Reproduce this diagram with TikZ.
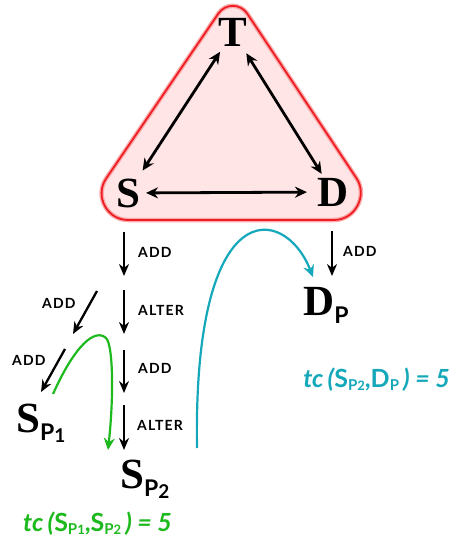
\documentclass[tikz,border=0pt]{standalone}
\usepackage{fontspec}
\setmainfont{Lato}
\newfontfamily\serifbig{Liberation Serif}
\newfontfamily\labfont{Lato}[LetterSpace=8]
\usetikzlibrary{arrows.meta}
\definecolor{trifill}{RGB}{255,229,229}
\definecolor{triline}{RGB}{238,30,36}
\definecolor{triglow}{RGB}{250,170,170}
\definecolor{tcteal}{RGB}{20,168,186}
\definecolor{tcgreen}{RGB}{30,185,30}
\newcommand{\BigLet}[1]{{\serifbig\bfseries\fontsize{43}{43}\selectfont #1}}
\newcommand{\BigSub}[1]{\raisebox{-8pt}{\bfseries\fontsize{23}{23}\selectfont P\raisebox{-2pt}{\fontsize{19}{19}\selectfont #1}}}
\newcommand{\SmallSub}[1]{\raisebox{-3pt}{\upshape\bfseries\fontsize{15}{15}\selectfont P\fontsize{13}{13}\selectfont #1}}
\begin{document}
\begin{tikzpicture}[x=1pt,y=-1pt,
  bigl/.style={inner sep=0pt},
  bidir/.style={line width=2.8pt,{Stealth[length=12pt,width=11pt]}-{Stealth[length=12pt,width=11pt]}},
  deriv/.style={line width=2.3pt,-{Stealth[length=12pt,width=10pt]}},
  lab/.style={inner sep=0pt,anchor=west,font=\labfont\bfseries\fontsize{14}{14}\selectfont},
  tcpath/.style={line width=2.2pt,-{Stealth[length=12pt,width=11pt,inset=4pt]}},
  tctext/.style={inner sep=0pt,font=\bfseries\fontsize{25}{25}\selectfont}]
\useasboundingbox (0,0) rectangle (453,541);
% rounded triangle
\path[draw=triglow,line width=4.5pt,fill=trifill]
  (128,220) -- (334,220) .. controls (355,220) and (368.1,195.8) .. (356.5,178.3)
  -- (247.3,13.7) .. controls (240.4,3.3) and (225.4,3.2) .. (218.4,13.5)
  -- (106.1,178.6) .. controls (94.3,196) and (107,220) .. (128,220) -- cycle;
\path[draw=triline,line width=1.8pt]
  (128,220) -- (334,220) .. controls (355,220) and (368.1,195.8) .. (356.5,178.3)
  -- (247.3,13.7) .. controls (240.4,3.3) and (225.4,3.2) .. (218.4,13.5)
  -- (106.1,178.6) .. controls (94.3,196) and (107,220) .. (128,220) -- cycle;
% vertices
\node[bigl] (T) at (233,32) {\BigLet{T}};
\node[bigl] (S) at (128,193) {\BigLet{S}};
\node[bigl] (D) at (333,192) {\BigLet{D}};
\draw[bidir,shorten <=23.7pt,shorten >=26.8pt] (T.center) -- (S.center);
\draw[bidir,shorten <=25.1pt,shorten >=21.4pt] (T.center) -- (D.center);
\draw[bidir,shorten <=18pt,shorten >=26pt] (S.center) -- (D.center);
% derived nodes
\node[bigl,anchor=base west] (SP1) at (16,432) {\BigLet{S}\BigSub{1}};
\node[bigl,anchor=base west] (SP2) at (120,488) {\BigLet{S}\BigSub{2}};
\node[bigl,anchor=base west] (DP) at (303,315) {\BigLet{D}\BigSub{}};
% step coordinates
\coordinate (v1a) at (124,232); \coordinate (v1b) at (124,276);
\coordinate (v2a) at (124,290); \coordinate (v2b) at (124,334);
\coordinate (v3a) at (124,350); \coordinate (v3b) at (124,393);
\coordinate (v4a) at (124,405); \coordinate (v4b) at (124,450);
\coordinate (d1a) at (97,291);  \coordinate (d1b) at (73,334);
\coordinate (d2a) at (65,349);  \coordinate (d2b) at (41,392);
\coordinate (pa) at (332,231);  \coordinate (pb) at (332,276);
\draw[deriv] (v1a) -- (v1b);
\draw[deriv] (v2a) -- (v2b);
\draw[deriv] (v3a) -- (v3b);
\draw[deriv] (v4a) -- (v4b);
\draw[deriv] (d1a) -- (d1b);
\draw[deriv] (d2a) -- (d2b);
\draw[deriv] (pa) -- (pb);
\node[lab] (l1) at (138,252) {ADD};
\node[lab] (l2) at (138,310) {ALTER};
\node[lab] (l3) at (138,368) {ADD};
\node[lab] (l4) at (137,425) {ALTER};
\node[lab] (l5) at (42,303) {ADD};
\node[lab] (l6) at (12,360) {ADD};
\node[lab] (l7) at (343,251) {ADD};
% tc curves
\coordinate (gs) at (53,394);
\coordinate (gm) at (106,338);
\coordinate (ge) at (108,450);
\draw[tcpath,tcgreen] (gs) .. controls (75,345) and (95,328) .. (gm)
  .. controls (113,344.4) and (114,395) .. (ge);
\coordinate (ts) at (197,448);
\coordinate (te) at (313,277);
\draw[tcpath,tcteal] (ts) .. controls (193,190) and (285,205) .. (te);
% tc labels
\node[tctext,text=tcteal,anchor=east] (tc2) at (450,380) {{\itshape tc\,(}S\SmallSub{2},D\SmallSub{}{\itshape\,) = 5}};
\node[tctext,text=tcgreen,anchor=west] (tc1) at (23,524) {{\itshape tc\,(}S\SmallSub{1},S\SmallSub{2}{\itshape\,) = 5}};
\end{tikzpicture}
\end{document}
